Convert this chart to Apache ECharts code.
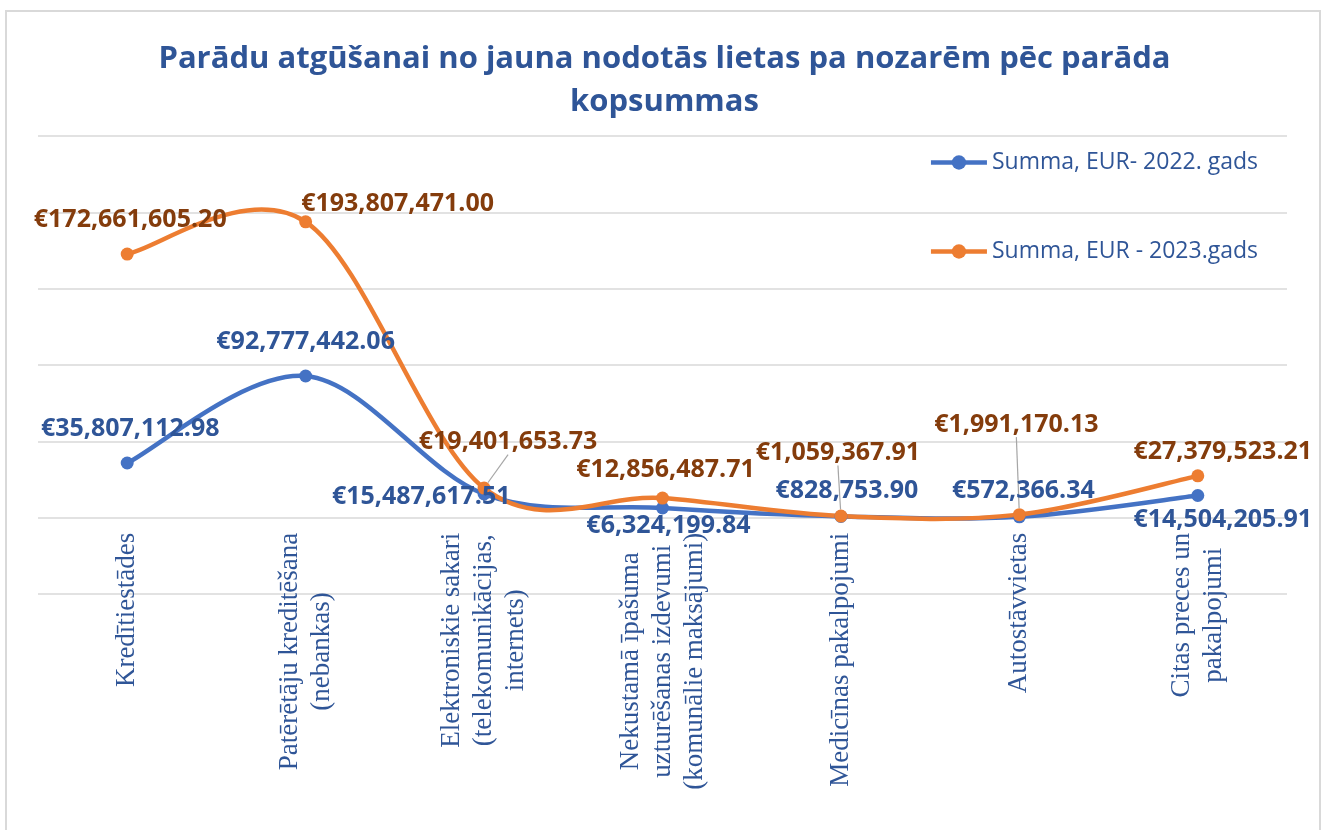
<!DOCTYPE html>
<html>
<head>
<meta charset="utf-8">
<script src="https://cdn.jsdelivr.net/npm/echarts@6/dist/echarts.min.js"></script>
<style>
  html, body { margin: 0; padding: 0; background: #fff; }
  #chart { width: 1329px; height: 830px; }
</style>
</head>
<body>
<div id="chart"></div>
<script>
// nozares (kategorijas)
const categories = [
  'Kredītiestādes',
  'Patērētāju kreditēšana\n(nebankas)',
  'Elektroniskie sakari\n(telekomunikācijas,\ninternets)',
  'Nekustamā īpašuma\nuzturēšanas izdevumi\n(komunālie maksājumi)',
  'Medicīnas pakalpojumi',
  'Autostāvvietas',
  'Citas preces un\npakalpojumi'
];

const seriesNames = ['Summa, EUR- 2022. gads', 'Summa, EUR - 2023.gads'];

const sum2022 = [35807112.98, 92777442.06, 15487617.51, 6324199.84, 828753.90, 572366.34, 14504205.91];
const sum2023 = [172661605.20, 193807471.00, 19401653.73, 12856487.71, 1059367.91, 1991170.13, 27379523.21];

// vērtību ass
const yMin = -50000000;
const yMax = 250000000;
const yStep = 50000000;

// etiķešu novietojums (pozīcija, nobīde)
const labelPos2022 = [
  ['top', [3, -10]], ['top', [0, -10]], ['left', [38, 3]], ['bottom', [6, -6]],
  ['top', [6, -2]], ['top', [4, -2]], ['bottom', [25, 0]]
];
const labelPos2023 = [
  ['top', [3, -10]], ['right', [-16, -18]], ['top', [24, -22]], ['top', [3, -4]],
  ['top', [-3, -39]], ['top', [-3, -66]], ['top', [25, 0]]
];
// etiķetes ar norādes līniju
const leader2023 = [2, 4, 5];

const blue = '#4472C4';
const orange = '#ED7D31';
const darkBlue = '#2F5597';
const brown = '#843C0C';
const gridGrey = '#D9D9D9';

function euro(v) {
  return '€' + v.toLocaleString('en-US', { minimumFractionDigits: 2, maximumFractionDigits: 2 });
}

function buildData(values, pos, useOffset, leaders) {
  return values.map((v, i) => {
    const item = {
      value: v,
      label: { position: pos[i][0] }
    };
    if (useOffset) item.label.offset = pos[i][1];
    if (leaders && leaders.indexOf(i) >= 0) {
      item.labelLine = { show: true };
    }
    return item;
  });
}

// gluda līkne kā Excel (Catmull-Rom), punkti no ass koordinātēm
function smoothCurve(values, color) {
  return {
    type: 'custom',
    z: 2,
    silent: true,
    data: values.map((v, i) => [i, v]),
    renderItem: (params, api) => {
      if (params.dataIndex !== 0) return null;
      const pts = values.map((v, i) => api.coord([i, v]));
      const n = pts.length;
      const p = k => pts[Math.max(0, Math.min(n - 1, k))];
      let d = 'M' + pts[0][0] + ',' + pts[0][1];
      for (let i = 0; i < n - 1; i++) {
        const a = p(i - 1), b = p(i), c = p(i + 1), e = p(i + 2);
        const c1x = b[0] + (c[0] - a[0]) / 6, c1y = b[1] + (c[1] - a[1]) / 6;
        const c2x = c[0] - (e[0] - b[0]) / 6, c2y = c[1] - (e[1] - b[1]) / 6;
        d += 'C' + c1x + ',' + c1y + ' ' + c2x + ',' + c2y + ' ' + c[0] + ',' + c[1];
      }
      return {
        type: 'path',
        shape: { pathData: d },
        style: { fill: 'none', stroke: color, lineWidth: 4.5, lineCap: 'round', lineJoin: 'round' }
      };
    }
  };
}

const chart = echarts.init(document.getElementById('chart'));

const labelBase = {
  show: true,
  fontFamily: 'Open Sans',
  fontWeight: 'bold',
  fontSize: 25,
  formatter: p => euro(p.value)
};

const option = {
  backgroundColor: '#fff',
  animation: false,
  graphic: [{
    type: 'rect',
    shape: { x: 6, y: 11, width: 1314, height: 830 },
    style: { fill: 'none', stroke: gridGrey, lineWidth: 2 },
    silent: true
  }],
  title: {
    text: 'Parādu atgūšanai no jauna nodotās lietas pa nozarēm pēc parāda\nkopsummas',
    left: 'center',
    top: 33,
    textStyle: {
      color: darkBlue,
      fontFamily: 'Open Sans',
      fontWeight: 'bold',
      fontSize: 31,
      lineHeight: 43
    }
  },
  legend: {
    orient: 'vertical',
    right: 66,
    top: 146,
    itemWidth: 56,
    itemHeight: 18,
    itemGap: 66,
    lineStyle: { width: 4.5, opacity: 1 },
    textStyle: {
      color: darkBlue,
      fontFamily: 'Open Sans',
      fontSize: 23
    },
    data: seriesNames
  },
  grid: {
    left: 38,
    right: 42,
    top: 136,
    bottom: 236,
    outerBoundsMode: 'none',
    containLabel: false
  },
  xAxis: {
    type: 'category',
    data: categories,
    boundaryGap: true,
    offset: -458 / 6,
    axisLine: { show: false, onZero: false },
    axisTick: { show: false },
    axisLabel: {
      interval: 0,
      rotate: 90,
      margin: 15,
      formatter: v => v.split('\n').map(s => '{c|' + s + '}').join('\n'),
      rich: {
        c: {
          align: 'center',
          fontFamily: 'Liberation Serif',
          fontSize: 27,
          lineHeight: 32,
          color: darkBlue
        }
      }
    }
  },
  yAxis: {
    type: 'value',
    min: yMin,
    max: yMax,
    interval: yStep,
    axisLabel: { show: false },
    axisLine: { show: false },
    axisTick: { show: false },
    splitLine: { lineStyle: { color: gridGrey, width: 1.5 } }
  },
  series: [
    smoothCurve(sum2022, blue),
    smoothCurve(sum2023, orange),
    {
      name: seriesNames[0],
      type: 'line',
      z: 3,
      symbol: 'circle',
      symbolSize: 13,
      lineStyle: { width: 0, color: blue },
      itemStyle: { color: blue },
      label: Object.assign({}, labelBase, { color: darkBlue }),
      data: buildData(sum2022, labelPos2022, true)
    },
    {
      name: seriesNames[1],
      type: 'line',
      z: 3,
      symbol: 'circle',
      symbolSize: 13,
      lineStyle: { width: 0, color: orange },
      itemStyle: { color: orange },
      label: Object.assign({}, labelBase, { color: brown }),
      labelLine: { show: false, lineStyle: { color: '#A6A6A6', width: 1.2 } },
      labelLayout: p => {
        const off = labelPos2023[p.dataIndex][1];
        return { dx: off[0], dy: off[1] };
      },
      data: buildData(sum2023, labelPos2023, false, leader2023)
    }
  ]
};

chart.setOption(option);
</script>
</body>
</html>
